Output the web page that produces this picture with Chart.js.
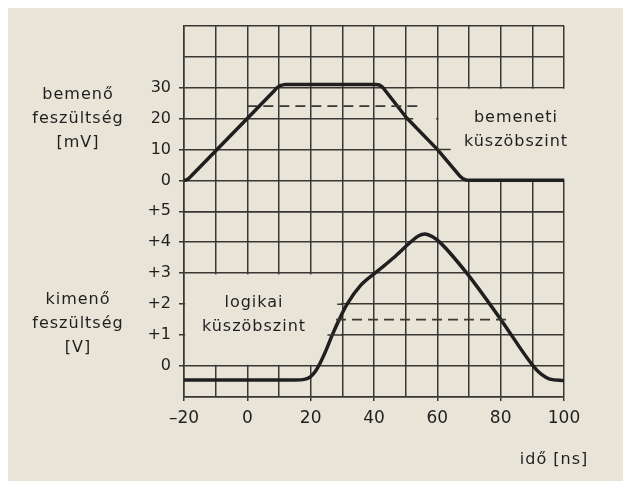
<!DOCTYPE html>
<html>
<head>
<meta charset="utf-8">
<script src="https://cdn.jsdelivr.net/npm/chart.js@4.4.1/dist/chart.umd.min.js"></script>
<style>
  html, body { margin: 0; padding: 0; background: #fff; }
  #sheet { position: absolute; left: 8px; top: 8px; width: 615px; height: 473px; background: #e9e4d8; }
  canvas { display: block; }
</style>
</head>
<body>
<div id="sheet"><canvas id="scope" width="615" height="473"></canvas></div>
<script>
// time axis [ns]
const timeTicks = [-20, 0, 20, 40, 60, 80, 100];
const timeTickLabels = ['–20', '0', '20', '40', '60', '80', '100'];
// input axis [mV]
const inTicks = [0, 10, 20, 30];
const inTickLabels = ['0', '10', '20', '30'];
// output axis [V]
const outTicks = [0, 1, 2, 3, 4, 5];
const outTickLabels = ['0', '+1', '+2', '+3', '+4', '+5'];

// input pulse (ns / mV) - straight flanks, small rounded corners
const inTime = [-20, -19.3, -18.6, -17.8, 8.2, 9.2, 10.3, 12, 40.6, 41.8, 42.8, 50.2, 60, 67, 68, 69, 70.5, 100];
const inVolt = [0, 0.1, 0.5, 1.3, 28.6, 29.8, 30.6, 31, 31, 30.8, 30, 20.3, 10, 1.5, 0.6, 0.15, 0, 0];

// output pulse (ns / V)
const outTime = [-20, 15, 18, 20, 21.5, 23, 24.8, 26.8, 29, 31.5, 35.7, 41, 46.2, 51.5, 54, 56, 58.5, 61, 69.3, 80.4, 90.3, 93, 95.5, 100];
const outVolt = [-0.45, -0.45, -0.43, -0.34, -0.17, 0.1, 0.5, 1, 1.5, 2, 2.6, 3.06, 3.5, 4.0, 4.2, 4.27, 4.18, 3.98, 3, 1.45, 0, -0.28, -0.42, -0.47];

// threshold levels and how far the dashed lines run
const inThreshold = 24;
const inThresholdSpan = [0, 55];
const outThreshold = 1.5;
const outThresholdSpan = [28, 82.5];

// short grid pieces left inside the label boxes
const inStubTime = [60, 64.2];
const inStubLevel = 10;
const outStubTimeHi = [28.4, 30];
const outStubLevelHi = 2;
const outStubTimeLo = [25.3, 30];
const outStubLevelLo = 1;

const ink = '#1f1f1f';
const gridInk = '#383733';
const paper = '#e9e4d8';
const face = '"DejaVu Sans", "Liberation Sans", sans-serif';

const pts = (xs, ys) => xs.map((x, i) => ({ x: x, y: ys[i] }));
const flat = (xs, level) => xs.map(x => ({ x: x, y: level }));
const pick = (ticks, labels) => v => {
  const i = ticks.indexOf(v);
  return i >= 0 ? labels[i] : '';
};
const tickMark = ticks => ctx => (ctx.tick && ticks.includes(ctx.tick.value)) ? gridInk : 'rgba(0,0,0,0)';

Chart.defaults.font.family = face;
Chart.defaults.color = ink;

// blank out the grid behind the two threshold captions
const labelBoxes = {
  id: 'labelBoxes',
  beforeDatasetsDraw(chart) {
    const { ctx, scales } = chart;
    const x = scales.x, yIn = scales.yIn, yOut = scales.yOut;
    const boxes = [
      [x, yIn, 60, 101, 30, 0],
      [x, yIn, 52, 60, 30, 10],
      [x, yOut, -20, 30, 3, 0],
    ];
    const inset = 1.2;
    ctx.save();
    ctx.fillStyle = paper;
    boxes.forEach(([sx, sy, x0, x1, y0, y1]) => {
      const l = sx.getPixelForValue(x0) + inset;
      const r = sx.getPixelForValue(x1) - inset;
      const t = sy.getPixelForValue(y0) + inset;
      const b = sy.getPixelForValue(y1) - inset;
      ctx.fillRect(l, t, r - l, b - t);
    });
    ctx.restore();
  }
};

// captions
const captions = {
  id: 'captions',
  afterDraw(chart) {
    const ctx = chart.ctx;
    const blocks = [
      [70, 87, ['bemenő', 'feszültség', '[mV]']],
      [70, 292, ['kimenő', 'feszültség', '[V]']],
      [508, 110, ['bemeneti', 'küszöbszint']],
      [246, 295, ['logikai', 'küszöbszint']],
      [546, 452, ['idő [ns]']],
    ];
    ctx.save();
    ctx.font = '16px ' + face;
    ctx.fillStyle = ink;
    ctx.textAlign = 'center';
    ctx.textBaseline = 'middle';
    ctx.letterSpacing = '1px';
    blocks.forEach(([cx, cy, lines]) => {
      lines.forEach((line, i) => ctx.fillText(line, cx, cy + i * 24));
    });
    ctx.restore();
  }
};

const thin = { pointRadius: 0, borderWidth: 1.5, borderColor: gridInk, fill: false };

new Chart(document.getElementById('scope'), {
  type: 'line',
  data: {
    datasets: [
      { ...thin, data: flat(inStubTime, inStubLevel), yAxisID: 'yIn' },
      { ...thin, data: flat(outStubTimeHi, outStubLevelHi), yAxisID: 'yOut' },
      { ...thin, data: flat(outStubTimeLo, outStubLevelLo), yAxisID: 'yOut' },
      { ...thin, data: flat(inThresholdSpan, inThreshold), yAxisID: 'yIn', borderDash: [10, 6], borderWidth: 1.7 },
      { ...thin, data: flat(outThresholdSpan, outThreshold), yAxisID: 'yOut', borderDash: [10, 6], borderWidth: 1.7 },
      {
        data: pts(inTime, inVolt), yAxisID: 'yIn',
        borderColor: ink, borderWidth: 3.5, pointRadius: 0, tension: 0,
        borderJoinStyle: 'round', fill: false
      },
      {
        data: pts(outTime, outVolt), yAxisID: 'yOut',
        borderColor: ink, borderWidth: 3.5, pointRadius: 0,
        cubicInterpolationMode: 'monotone', fill: false
      },
    ]
  },
  options: {
    responsive: false,
    animation: false,
    layout: { padding: { top: 17, right: 59, left: 0, bottom: 0 } },
    plugins: { legend: { display: false }, tooltip: { enabled: false } },
    scales: {
      x: {
        type: 'linear', min: -20, max: 100,
        ticks: { stepSize: 10, autoSkip: false, maxRotation: 0, padding: 7, font: { size: 17 }, color: ink,
                 callback: pick(timeTicks, timeTickLabels) },
        grid: { color: gridInk, lineWidth: 1.5, tickLength: 4, tickColor: tickMark(timeTicks) },
        border: { color: gridInk, width: 1.5 },
        afterFit: s => { s.height = 84; }
      },
      yIn: {
        type: 'linear', position: 'left', stack: 'scope', stackWeight: 1, weight: 2,
        min: -10, max: 50,
        ticks: { stepSize: 10, autoSkip: false, padding: 8, font: { size: 16 }, color: ink,
                 callback: pick(inTicks, inTickLabels) },
        grid: { color: gridInk, lineWidth: 1.5, tickLength: 5, tickColor: tickMark(inTicks) },
        border: { color: gridInk, width: 1.5 },
        afterFit: s => { s.width = 176; }
      },
      yOut: {
        type: 'linear', position: 'left', stack: 'scope', stackWeight: 1, weight: 1,
        min: -1, max: 5,
        ticks: { stepSize: 1, autoSkip: false, padding: 8, font: { size: 16 }, color: ink,
                 callback: pick(outTicks, outTickLabels) },
        grid: { color: gridInk, lineWidth: 1.5, tickLength: 5, tickColor: tickMark(outTicks) },
        border: { color: gridInk, width: 1.5 },
        afterFit: s => { s.width = 176; }
      }
    }
  },
  plugins: [labelBoxes, captions]
});
</script>
</body>
</html>
